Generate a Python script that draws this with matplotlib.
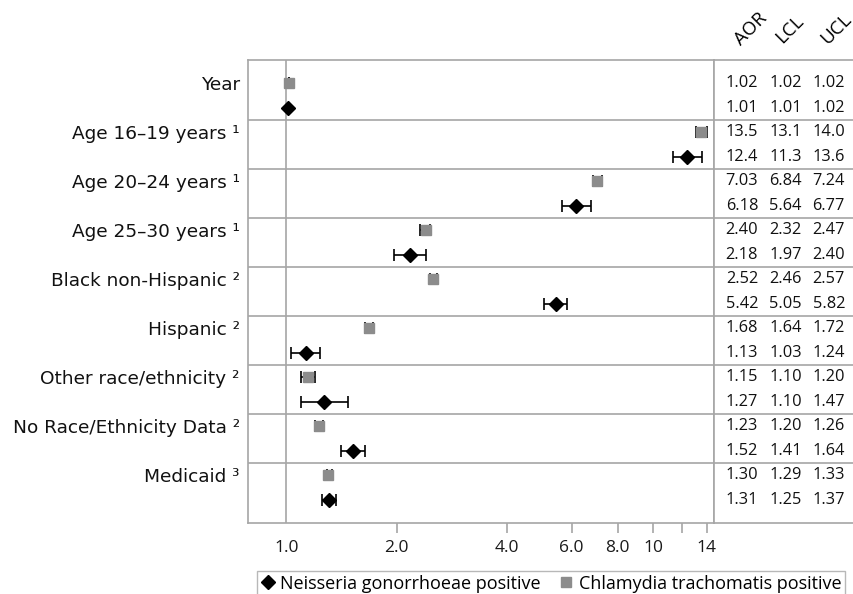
import matplotlib
matplotlib.use("Agg")
import matplotlib.pyplot as plt
from matplotlib.lines import Line2D
import numpy as np

labels = ["Year", "Age 16–19 years ¹", "Age 20–24 years ¹", "Age 25–30 years ¹",
          "Black non-Hispanic ²", "Hispanic ²", "Other race/ethnicity ²",
          "No Race/Ethnicity Data ²", "Medicaid ³"]

# Chlamydia trachomatis positive
ct_aor = [1.02, 13.5, 7.03, 2.40, 2.52, 1.68, 1.15, 1.23, 1.30]
ct_lcl = [1.02, 13.1, 6.84, 2.32, 2.46, 1.64, 1.10, 1.20, 1.29]
ct_ucl = [1.02, 14.0, 7.24, 2.47, 2.57, 1.72, 1.20, 1.26, 1.33]

# Neisseria gonorrhoeae positive
ng_aor = [1.01, 12.4, 6.18, 2.18, 5.42, 1.13, 1.27, 1.52, 1.31]
ng_lcl = [1.01, 11.3, 5.64, 1.97, 5.05, 1.03, 1.10, 1.41, 1.25]
ng_ucl = [1.02, 13.6, 6.77, 2.40, 5.82, 1.24, 1.47, 1.64, 1.37]

tick_vals = [1, 2, 4, 6, 8, 10, 12, 14]
tick_labels = ["1.0", "2.0", "4.0", "6.0", "8.0", "10", "", "14"]

frame = "#a6a6a6"
ct_color = "#8c8c8c"

fig = plt.figure(figsize=(8.54, 5.94), dpi=100)
ax = fig.add_axes([248 / 854, 1 - 523 / 594, (714 - 248) / 854, 463 / 594])
tab = fig.add_axes([714 / 854, 1 - 523 / 594, 140 / 854, 463 / 594])

n = len(labels)
ct_y = np.arange(n) * 2
ng_y = ct_y + 1


def _errs(aor, lcl, ucl):
    aor = np.array(aor)
    return np.vstack([aor - np.array(lcl), np.array(ucl) - aor])


ax.errorbar(ct_aor, ct_y, xerr=_errs(ct_aor, ct_lcl, ct_ucl), fmt="s",
            color=ct_color, ms=6.5, ecolor="black", elinewidth=1.2,
            capsize=4.5, capthick=1.2, zorder=3)
ax.errorbar(ng_aor, ng_y, xerr=_errs(ng_aor, ng_lcl, ng_ucl), fmt="D",
            color="black", ms=7, ecolor="black", elinewidth=1.2,
            capsize=4.5, capthick=1.2, zorder=4)

ax.set_xscale("log")
ax.set_xlim(0.787, 14.65)
ax.set_ylim(2 * n - 1 + 0.95, -0.95)
ax.axvline(1.0, color=frame, lw=1.2, zorder=1)
for k in range(1, n):
    ax.axhline(2 * k - 0.5, color=frame, lw=1.2, zorder=1)
    tab.axhline(2 * k - 0.5, color=frame, lw=1.2)

ax.set_xticks(tick_vals)
ax.set_xticklabels(tick_labels, fontfamily="Open Sans", fontsize=12.5, color="#1a1a1a")
ax.xaxis.set_minor_locator(matplotlib.ticker.NullLocator())
ax.tick_params(axis="x", length=7, width=1.2, color=frame, pad=5)
ax.xaxis.get_major_ticks()[0].tick1line.set_visible(False)

ax.set_yticks(ct_y)
ax.set_yticklabels(labels, fontsize=13.3, color="#111111")
ax.tick_params(axis="y", length=0, pad=6)

for s in ax.spines.values():
    s.set_color(frame)
    s.set_linewidth(1.2)

# right-hand table of values
tab.set_xlim(0, 1)
tab.set_ylim(ax.get_ylim())
tab.set_xticks([])
tab.set_yticks([])
for s in tab.spines.values():
    s.set_color(frame)
    s.set_linewidth(1.2)
tab.spines["right"].set_visible(False)

col_x = [0.20, 0.51, 0.82]
for i in range(n):
    ct_row = [ct_aor[i], ct_lcl[i], ct_ucl[i]]
    ng_row = [ng_aor[i], ng_lcl[i], ng_ucl[i]]
    for row, y in ((ct_row, ct_y[i]), (ng_row, ng_y[i])):
        for cx, v in zip(col_x, row):
            txt = f"{v:.1f}" if v >= 10 else f"{v:.2f}"
            tab.text(cx, y, txt, ha="center", va="center", fontsize=11.8,
                     fontfamily="Open Sans", color="#111111")

for name, x in (("AOR", 751), ("LCL", 790), ("UCL", 836)):
    fig.text(x / 854, 1 - 29 / 594, name, rotation=45, ha="center", va="center",
             fontsize=13.5, fontfamily="Open Sans", color="black")

handles = [
    Line2D([], [], marker="D", color="black", ls="none", ms=7),
    Line2D([], [], marker="s", color=ct_color, ls="none", ms=7),
]
fig.legend(handles, ["Neisseria gonorrhoeae positive", "Chlamydia trachomatis positive"],
           loc="upper left", bbox_to_anchor=(257 / 854, 1 - 571 / 594), ncol=2,
           frameon=True, fancybox=False, edgecolor=frame, handletextpad=0.3,
           columnspacing=1.0, handlelength=0.8, borderpad=0.2, borderaxespad=0,
           prop={"family": "Open Sans", "size": 13})

fig.savefig("out.png", dpi=100)
